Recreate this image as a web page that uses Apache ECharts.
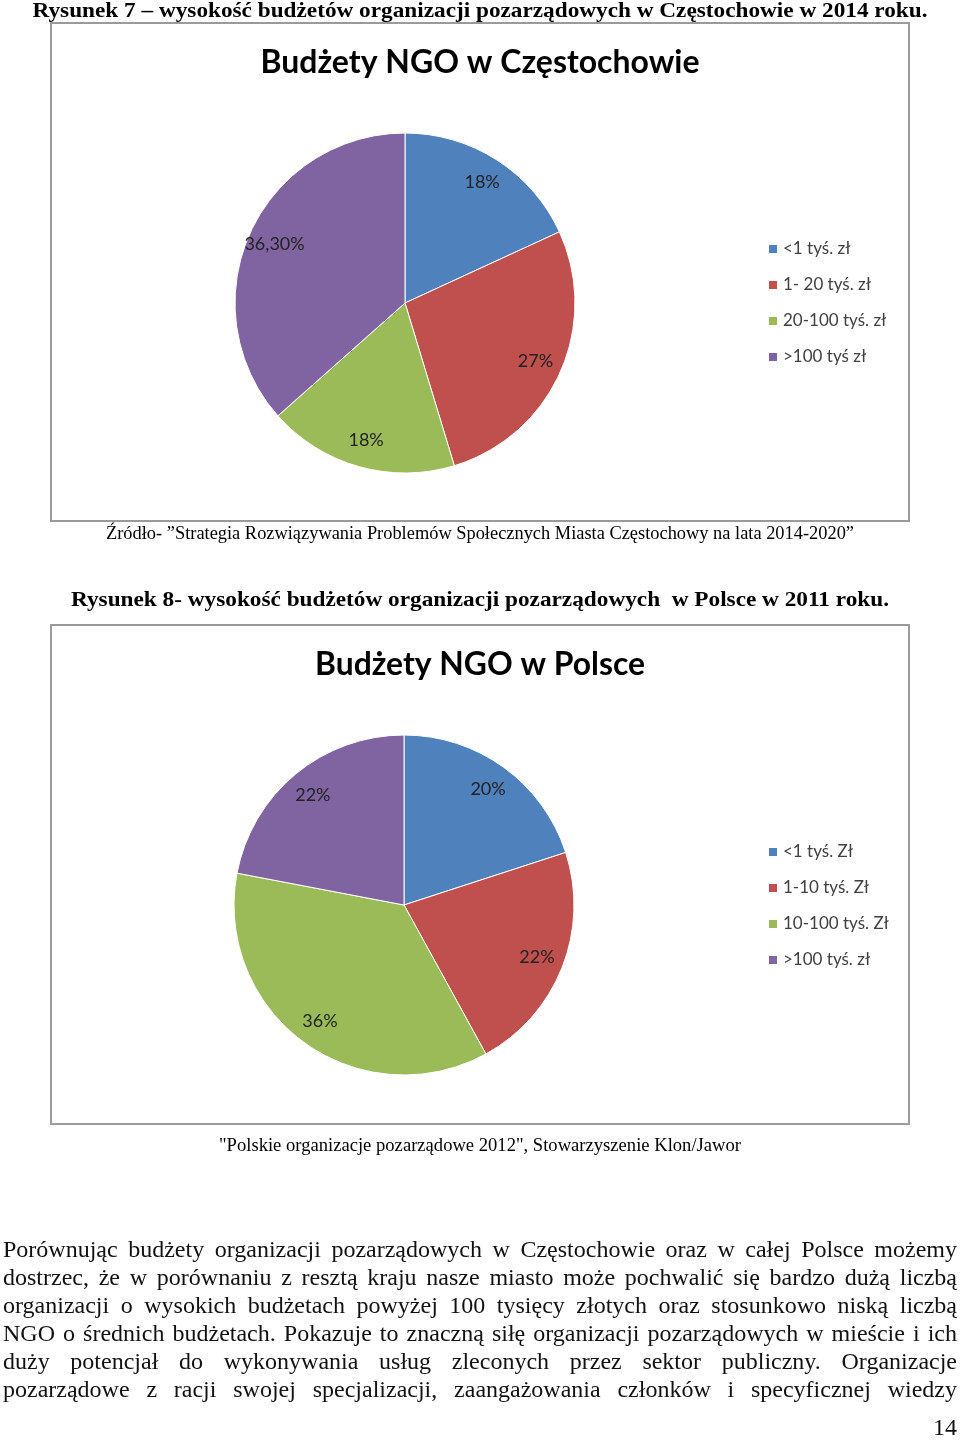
<!DOCTYPE html>
<html>
<head>
<meta charset="utf-8">
<script src="https://cdn.jsdelivr.net/npm/echarts@6/dist/echarts.min.js"></script>
<style>
html,body{margin:0;padding:0;background:#fff;}
#main{width:960px;height:1440px;}
</style>
</head>
<body>
<div id="main"></div>
<script>
// ---- data ----
const cats1 = ['<1 tyś. zł', '1- 20 tyś. zł', '20-100 tyś. zł', '>100 tyś zł'];
const vals1 = [18, 27, 18, 36.3];
const labels1 = ['18%', '27%', '18%', '36,30%'];

const cats2 = ['<1 tyś. Zł', '1-10 tyś. Zł', '10-100 tyś. Zł', '>100 tyś. zł'];
const vals2 = [20, 22, 36, 22];
const labels2 = ['20%', '22%', '36%', '22%'];

const caption1 = 'Rysunek 7 – wysokość budżetów organizacji pozarządowych w Częstochowie w 2014 roku.';
const title1 = 'Budżety NGO w Częstochowie';
const source1 = 'Źródło- ”Strategia Rozwiązywania Problemów Społecznych Miasta Częstochowy na lata 2014-2020”';
const caption2 = 'Rysunek 8- wysokość budżetów organizacji pozarządowych  w Polsce w 2011 roku.';
const title2 = 'Budżety NGO w Polsce';
const source2 = '"Polskie organizacje pozarządowe 2012", Stowarzyszenie Klon/Jawor';
const paragraph = [
  'Porównując budżety organizacji pozarządowych w Częstochowie oraz w całej Polsce możemy',
  'dostrzec, że w porównaniu z resztą kraju nasze miasto może pochwalić się bardzo dużą liczbą',
  'organizacji o wysokich budżetach powyżej 100 tysięcy złotych oraz stosunkowo niską liczbą',
  'NGO o średnich budżetach. Pokazuje to znaczną siłę organizacji pozarządowych w mieście i ich',
  'duży potencjał do wykonywania usług zleconych przez sektor publiczny. Organizacje',
  'pozarządowe z racji swojej specjalizacji, zaangażowania członków i specyficznej wiedzy'
];
const pageNum = '14';

const colors = ['#4F81BD', '#C0504D', '#9BBB59', '#8064A2'];

// ---- helpers ----
const mctx = document.createElement('canvas').getContext('2d');
function measure(text, font) { mctx.font = font; return mctx.measureText(text).width; }

function fitText(text, cx, cy, size, family, weight, targetW, color) {
  const font = (weight ? weight + ' ' : '') + size + 'px ' + family;
  const w = measure(text, font);
  return {
    type: 'text', x: cx, y: cy, scaleX: targetW / w, z: 10,
    style: { text: text, font: font, fill: color || '#000', align: 'center', verticalAlign: 'middle' }
  };
}

const graphics = [];
// chart boxes
[[23, 498], [625, 499]].forEach(function (b) {
  graphics.push({ type: 'rect', shape: { x: 51, y: b[0], width: 858, height: b[1] },
    style: { fill: '#fff', stroke: '#9a9a9a', lineWidth: 2 }, z: -5 });
});

const serif = '"Liberation Serif", serif';
const sans = 'Lato, "Open Sans", sans-serif';
graphics.push(fitText(caption1, 480, 11, 22, serif, 'bold', 895));
graphics.push(fitText(title1, 480, 62, 33, sans, 'bold', 439, '#000'));
graphics.push(fitText(source1, 480, 534, 18, serif, '', 748));
graphics.push(fitText(caption2, 480, 600, 22, serif, 'bold', 818));
graphics.push(fitText(title2, 480, 664, 33, sans, 'bold', 330, '#000'));
graphics.push(fitText(source2, 480, 1146, 18, serif, '', 522));

// justified paragraph with a common horizontal condensation
const pFont = '24px ' + serif;
const left = 3, right = 957, lineW = right - left;
const spaceW = measure(' ', pFont);
let sc = 1;
paragraph.forEach(function (line) {
  const nat = measure(line, pFont);
  sc = Math.min(sc, lineW / nat);
});
paragraph.forEach(function (line, i) {
  const words = line.split(/\s+/);
  const widths = words.map(function (w) { return measure(w, pFont) * sc; });
  const total = widths.reduce(function (a, b) { return a + b; }, 0);
  const gap = (lineW - total) / (words.length - 1);
  let x = left;
  const y = 1251 + i * 28;
  words.forEach(function (w, k) {
    graphics.push({ type: 'text', x: x, y: y, scaleX: sc, z: 10,
      style: { text: w, font: pFont, fill: '#111', align: 'left', verticalAlign: 'middle' } });
    x += widths[k] + gap;
  });
});
graphics.push({ type: 'text', x: 957, y: 1429, z: 10, scaleX: sc,
  style: { text: pageNum, font: '24px ' + serif, fill: '#111', align: 'right', verticalAlign: 'middle' } });

function pieData(cats, vals) {
  return cats.map(function (c, i) { return { name: c, value: vals[i], itemStyle: { color: colors[i] } }; });
}
function labelSeries(cats, vals, labels, center) {
  return {
    type: 'pie', center: center, radius: [110, 170], silent: true, z: 5,
    startAngle: 90, clockwise: true, animation: false,
    data: cats.map(function (c, i) { return { name: c, value: vals[i], itemStyle: { color: 'rgba(0,0,0,0)' } }; }),
    label: {
      show: true, position: 'inside',
      formatter: function (p) { return labels[p.dataIndex]; },
      color: '#222', fontSize: 18, fontFamily: sans
    },
    labelLine: { show: false },
    emphasis: { disabled: true }
  };
}
function mainSeries(cats, vals, center) {
  return {
    type: 'pie', center: center, radius: 170, startAngle: 90, clockwise: true,
    animation: false, silent: true,
    data: pieData(cats, vals),
    itemStyle: { borderColor: '#fff', borderWidth: 1 },
    label: { show: false }, labelLine: { show: false },
    emphasis: { disabled: true }
  };
}
function legendCfg(cats, top) {
  return {
    orient: 'vertical', left: 767, top: top, padding: 0,
    itemWidth: 10, itemHeight: 10, itemGap: 16, icon: 'rect',
    selectedMode: false,
    data: cats.map(function (c, i) { return { name: c, itemStyle: { color: colors[i] } }; }),
    textStyle: { fontSize: 17, fontFamily: sans, color: '#404040', lineHeight: 20 }
  };
}

const chart = echarts.init(document.getElementById('main'), null, { renderer: 'canvas' });
chart.setOption({
  backgroundColor: '#fff',
  animation: false,
  color: colors,
  legend: [legendCfg(cats1, 239), legendCfg(cats2, 842)],
  series: [
    mainSeries(cats1, vals1, [405, 303]),
    labelSeries(cats1, vals1, labels1, [405, 303]),
    mainSeries(cats2, vals2, [404, 905]),
    labelSeries(cats2, vals2, labels2, [404, 905])
  ],
  graphic: graphics
});
</script>
</body>
</html>
